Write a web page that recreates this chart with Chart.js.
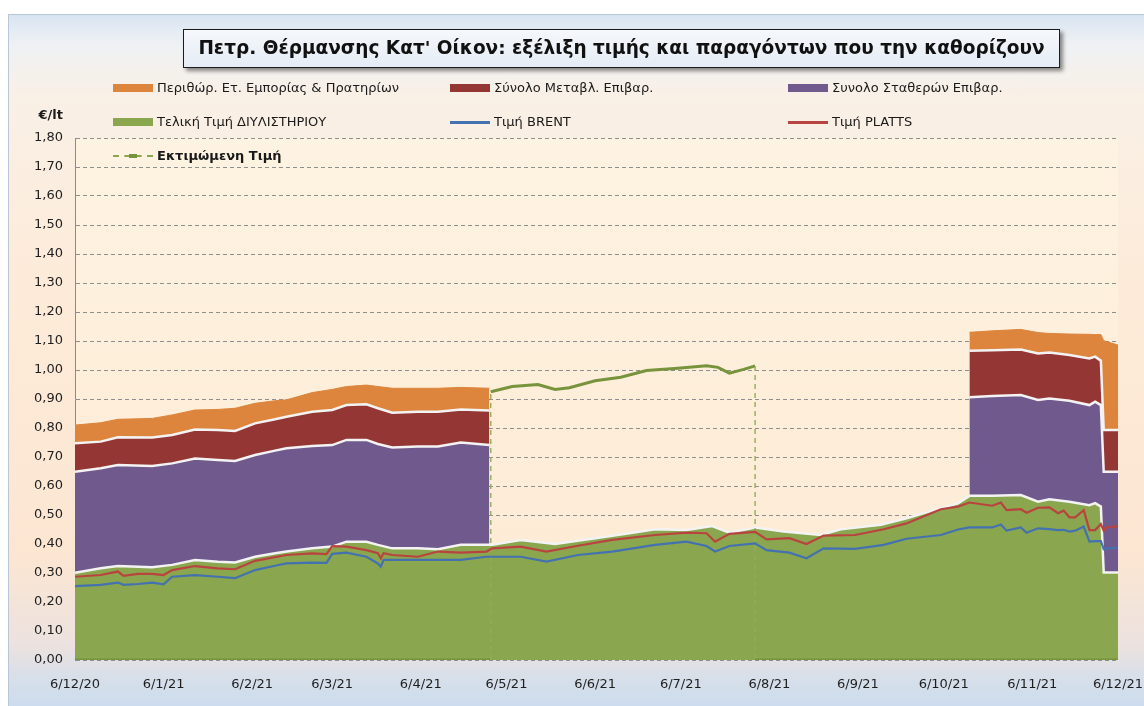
<!DOCTYPE html>
<html lang="el">
<head>
<meta charset="utf-8">
<title>Πετρ. Θέρμανσης Κατ' Οίκον</title>
<script src="https://cdn.jsdelivr.net/npm/chart.js@4.4.1/dist/chart.umd.min.js"></script>
<style>
  html, body { margin: 0; padding: 0; background: #fff; }
  body { width: 1144px; height: 706px; position: relative; overflow: hidden; font-family: "DejaVu Sans", Verdana, sans-serif; color: #1a1a1a; }
  #frame {
    position: absolute; left: 8px; top: 14px; width: 1150px; height: 700px;
    border: 1px solid #b8c6d6; box-sizing: border-box;
    background: linear-gradient(to bottom, #d8e4f2 0px, #eef1f4 28px, #f9f0e6 80px, #fdebd9 260px, #fce6d2 540px, #ece2df 630px, #d6dfea 665px, #c9dbef 700px);
  }
  #c { position: absolute; left: 0; top: 0; }
  #title {
    position: absolute; left: 183px; top: 29px; width: 877px; height: 39px; box-sizing: border-box;
    border: 1.5px solid #1c1c1c; background: linear-gradient(to bottom, #f5f8fc, #e5ecf5);
    box-shadow: 3px 3px 4px rgba(0,0,0,0.45);
    font: bold 18.5px "DejaVu Sans", Verdana, sans-serif; line-height: 36px; text-align: center; color: #111;
  }
  #unit { position: absolute; right: 1081px; top: 107px; font: bold 13px "DejaVu Sans", sans-serif; }
  .lg { position: absolute; font-size: 13px; line-height: 15px; white-space: nowrap; }
  .sw { position: absolute; width: 40px; }
</style>
</head>
<body>
<div id="frame"></div>
<canvas id="c" width="1144" height="706"></canvas>
<div id="title">Πετρ. Θέρμανσης Κατ' Οίκον: εξέλιξη τιμής και παραγόντων που την καθορίζουν</div>
<div id="unit">€/lt</div>
<div id="legend"></div>
<script>
// x axis: days counted from 6/12/20 (day/month/year)
const tickLabels = ['6/12/20', '6/1/21', '6/2/21', '6/3/21', '6/4/21', '6/5/21', '6/6/21',
  '6/7/21', '6/8/21', '6/9/21', '6/10/21', '6/11/21', '6/12/21'];

// stacked components (€/lt), null where the heating season is not running
const areaDays = [0, 9, 15, 27, 34, 42, 50, 56, 63, 70, 74, 83, 90, 95, 102, 106, 111, 120, 127, 135, 145,
  146, 156, 168, 182, 194, 203, 214, 223, 229, 238, 248, 261, 268, 282, 291, 300, 309,
  313, 321, 331, 337, 341, 348, 355, 357, 359, 360, 365];
const refineryPrice = [.301, .316, .324, .320, .328, .345, .339, .336, .356, .368, .374, .385, .391, .408, .408, .397, .385, .385, .382, .397, .397,
  .397, .414, .400, .420, .437, .451, .448, .462, .439, .457, .443, .431, .451, .466, .489, .515, .540,
  .566, .566, .569, .546, .554, .546, .534, .541, .529, .302, .302];
const fixedCharges = [.348, .345, .348, .349, .350, .350, .351, .350, .351, .354, .356, .353, .350, .351, .351, .348, .348, .351, .354, .353, .344,
  null, null, null, null, null, null, null, null, null, null, null, null, null, null, null, null, null,
  .340, .344, .345, .351, .348, .348, .345, .350, .350, .347, .347];
const variableCharges = [.098, .092, .096, .098, .098, .100, .103, .104, .109, .108, .109, .118, .121, .120, .123, .123, .120, .120, .120, .114, .119,
  null, null, null, null, null, null, null, null, null, null, null, null, null, null, null, null, null,
  .160, .158, .157, .160, .158, .158, .161, .155, .153, .144, .144];
const retailMargin = [.063, .065, .062, .066, .069, .067, .071, .078, .069, .064, .058, .066, .071, .064, .066, .075, .084, .081, .081, .076, .077,
  null, null, null, null, null, null, null, null, null, null, null, null, null, null, null, null, null,
  .064, .067, .069, .072, .066, .072, .083, .076, .090, .308, .293];

// BRENT / PLATTS lines
const lineDays = [0, 9, 15, 17, 22, 27, 31, 34, 42, 50, 56, 63, 70, 74, 83, 88, 90, 95, 102, 106, 107, 108, 111, 120, 127, 135, 144,
  146, 156, 165, 176, 188, 203, 214, 221, 224, 229, 238, 242, 250, 256, 262, 273, 283, 291, 303, 309,
  313, 321, 324, 326, 331, 333, 337, 341, 344, 346, 348, 350, 353, 355, 357, 359, 360, 361, 365];
const plattsPrice = [.287, .293, .305, .290, .297, .297, .293, .310, .324, .316, .313, .342, .355, .362, .368, .365, .393, .391, .379, .368,
  .351, .368, .362, .356, .374, .370, .374, .385, .391, .374, .394, .414, .431, .439, .437, .408, .435, .442, .416, .420,
  .400, .429, .431, .451, .471, .520, .529, .543, .532, .543, .517, .520, .508, .525, .526, .506, .515, .492, .492, .517,
  .448, .448, .469, .446, .457, .462];
const brentPrice = [.255, .259, .267, .259, .262, .267, .261, .287, .293, .287, .282, .310, .325, .333, .336, .335, .366, .370, .356, .333,
  .322, .345, .345, .345, .345, .345, .356, .356, .356, .339, .362, .374, .397, .408, .393, .374, .393, .402, .379, .370,
  .351, .385, .383, .397, .418, .431, .450, .457, .457, .467, .446, .457, .439, .454, .451, .448, .449, .443, .446, .460,
  .408, .410, .410, .382, .385, .387];

// estimated price over the summer gap
const estDays = [0, 145.5, 145.5, 153, 162, 168, 173, 182, 191, 200, 211, 221, 225, 229, 234, 238, 238, 365];
const estimatedPrice = [0, 0, .925, .943, .950, .933, .939, .963, .975, .998, 1.006, 1.015, 1.009, .989, 1.002, 1.014, 0, 0];

const names = {
  margin: 'Περιθώρ. Ετ. Εμπορίας & Πρατηρίων',
  variable: 'Σύνολο Μεταβλ. Επιβαρ.',
  fixed: 'Συνολο Σταθερών Επιβαρ.',
  refinery: 'Τελική Τιμή ΔΙΥΛΙΣΤΗΡΙΟΥ',
  brent: 'Τιμή BRENT',
  platts: 'Τιμή PLATTS',
  est: 'Εκτιμώμενη Τιμή'
};

const colors = {
  green: '#8aa64e', purple: '#70598c', red: '#943634', orange: '#dd853d',
  brent: '#4472b0', platts: '#b9443f', est: '#77933c', edge: '#f3f3f3'
};

const startUTC = Date.UTC(2020, 11, 6);
const toDay = s => {
  const [d, m, y] = s.split('/').map(Number);
  return Math.round((Date.UTC(2000 + y, m - 1, d) - startUTC) / 864e5);
};
const tickDays = tickLabels.map(toDay);
const pts = (xs, ys) => xs.map((x, i) => ({ x, y: ys[i] }));

const area = (label, data, color, order, fill, edge) => ({
  label, data: pts(areaDays, data), stack: 'areas', order, fill,
  backgroundColor: color, borderColor: edge ? colors.edge : color, borderWidth: edge ? 2.5 : 1,
  pointRadius: 0, tension: 0
});
const line = (label, xs, data, color, stack) => ({
  label, data: pts(xs, data), stack, order: 0, fill: false,
  borderColor: color, borderWidth: 2.2, pointRadius: 0, tension: 0
});

// dashed drop lines where the estimate starts/ends, solid elsewhere
const estLine = line(names.est, estDays, estimatedPrice, colors.est, 'est');
estLine.borderWidth = 3;
estLine.borderDash = [5, 4];
const vertical = ctx => ctx.p0.parsed.x === ctx.p1.parsed.x;
estLine.segment = {
  borderDash: ctx => vertical(ctx) ? [5, 4] : [],
  borderWidth: ctx => vertical(ctx) ? 1.4 : 3,
  borderColor: ctx => vertical(ctx) ? '#93ad55' : colors.est
};

const plotBg = {
  id: 'plotBg',
  beforeDraw(chart) {
    const { ctx, chartArea: a } = chart;
    const g = ctx.createLinearGradient(0, a.top, 0, a.bottom);
    g.addColorStop(0, '#fef3e2');
    g.addColorStop(1, '#fde9d2');
    ctx.save();
    ctx.fillStyle = g;
    ctx.fillRect(a.left, a.top, a.right - a.left, a.bottom - a.top);
    ctx.restore();
  }
};

new Chart(document.getElementById('c'), {
  type: 'line',
  plugins: [plotBg],
  data: {
    datasets: [
      area(names.refinery, refineryPrice, colors.green, 1, 'origin', true),
      area(names.fixed, fixedCharges, colors.purple, 2, '-1', true),
      area(names.variable, variableCharges, colors.red, 3, '-1', true),
      area(names.margin, retailMargin, colors.orange, 4, '-1', false),
      line(names.brent, lineDays, brentPrice, colors.brent, 'brent'),
      line(names.platts, lineDays, plattsPrice, colors.platts, 'platts'),
      estLine
    ]
  },
  options: {
    responsive: false,
    animation: false,
    devicePixelRatio: 1,
    layout: { padding: { top: 138, right: 26, bottom: 16, left: 0 } },
    plugins: { legend: { display: false }, tooltip: { enabled: false } },
    scales: {
      x: {
        type: 'linear', min: 0, max: 365,
        grid: { display: false },
        border: { display: false },
        afterBuildTicks: s => { s.ticks = tickDays.map(v => ({ value: v })); },
        afterFit: s => { s.height = 30; s.paddingRight = 0; s.paddingLeft = 0; },
        ticks: {
          autoSkip: false, maxRotation: 0, padding: 9, color: '#1e1e1e',
          font: { family: 'DejaVu Sans', size: 13 },
          callback: (v, i) => tickLabels[i]
        }
      },
      y: {
        stacked: true, min: 0, max: 1.8,
        grid: { color: '#8f8f8f', lineWidth: 1, drawTicks: false },
        border: { display: true, color: '#8a8a8a', width: 1, dash: [4, 3] },
        afterFit: s => { s.width = 75; },
        ticks: {
          stepSize: 0.1, padding: 12, color: '#1e1e1e',
          font: { family: 'DejaVu Sans', size: 13 },
          callback: v => v.toFixed(2).replace('.', ',')
        }
      }
    }
  }
});

// legend in three fixed columns, as in the original sheet
const legendRows = [
  [{ n: names.margin, c: colors.orange, k: 'bar' }, { n: names.variable, c: colors.red, k: 'bar' }, { n: names.fixed, c: colors.purple, k: 'bar' }],
  [{ n: names.refinery, c: colors.green, k: 'bar' }, { n: names.brent, c: colors.brent, k: 'line' }, { n: names.platts, c: colors.platts, k: 'line' }],
  [{ n: names.est, c: colors.est, k: 'dash' }]
];
const colX = [113, 450, 788];
const rowY = [88, 122, 156];
const lg = document.getElementById('legend');
legendRows.forEach((row, r) => row.forEach((it, c) => {
  const sw = document.createElement('div');
  sw.className = 'sw';
  sw.style.left = colX[c] + 'px';
  if (it.k === 'bar') {
    sw.style.top = (rowY[r] - 4) + 'px'; sw.style.height = '8px'; sw.style.background = it.c;
  } else if (it.k === 'line') {
    sw.style.top = (rowY[r] - 1.5) + 'px'; sw.style.height = '3px'; sw.style.background = it.c;
  } else {
    sw.style.top = (rowY[r] - 1) + 'px'; sw.style.height = '0'; sw.style.borderTop = '2px dashed ' + colors.green;
    const mk = document.createElement('div');
    mk.style.cssText = 'position:absolute;left:16px;top:-3px;width:8px;height:4px;background:' + it.c;
    sw.appendChild(mk);
  }
  lg.appendChild(sw);
  const t = document.createElement('div');
  t.className = 'lg';
  t.textContent = it.n;
  t.style.left = (colX[c] + 44) + 'px';
  t.style.top = (rowY[r] - 8) + 'px';
  if (it.k === 'dash') t.style.fontWeight = 'bold';
  lg.appendChild(t);
}));
</script>
</body>
</html>
